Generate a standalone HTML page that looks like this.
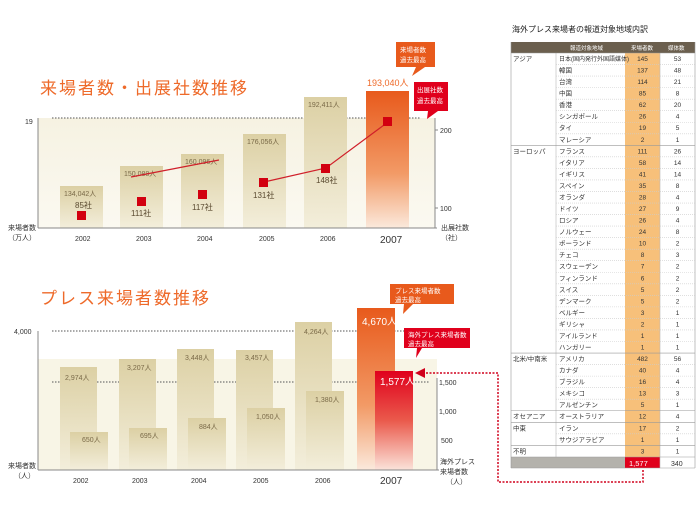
<!DOCTYPE html>
<html><head><meta charset="utf-8"><style>
body{margin:0;background:#fff;width:700px;height:500px;overflow:hidden;font-family:"Liberation Sans","Noto Sans CJK JP",sans-serif}
svg text{font-family:"Liberation Sans","Noto Sans CJK JP",sans-serif}
</style></head><body>
<svg width="700" height="500" viewBox="0 0 700 500" xmlns="http://www.w3.org/2000/svg">
<defs>
<linearGradient id="bg" x1="0" y1="0" x2="0" y2="1"><stop offset="0" stop-color="#f6f2e2"/><stop offset="1" stop-color="#fbf9f1"/></linearGradient>
<linearGradient id="bar" x1="0" y1="0" x2="0" y2="1"><stop offset="0" stop-color="#dcd0a4"/><stop offset="1" stop-color="#f3eedb"/></linearGradient>
<linearGradient id="or" x1="0" y1="0" x2="0" y2="1"><stop offset="0" stop-color="#e85a1c"/><stop offset="0.6" stop-color="#f29a66"/><stop offset="1" stop-color="#fbe9dc"/></linearGradient>
<linearGradient id="rd" x1="0" y1="0" x2="0" y2="1"><stop offset="0" stop-color="#e0001c"/><stop offset="0.5" stop-color="#ea5a4c"/><stop offset="1" stop-color="#fbe3da"/></linearGradient>
</defs>
<!-- TOP CHART -->
<text x="40" y="94" font-size="17" fill="#ee6a2a" letter-spacing="2">来場者数・出展社数推移</text>
<rect x="38" y="118" width="397" height="110" fill="url(#bg)"/>
<line x1="52" y1="118" x2="420" y2="118" stroke="#555" stroke-dasharray="1.5,1.5"/>
<g fill="url(#bar)">
<rect x="60" y="186" width="43" height="42"/><rect x="120" y="166" width="43" height="62"/><rect x="181" y="154" width="43" height="74"/><rect x="243" y="134" width="43" height="94"/><rect x="304" y="97" width="43" height="131"/></g>
<rect x="366" y="91" width="43" height="137" fill="url(#or)"/>
<g font-size="7" fill="#7a6a48">
<text x="64" y="196">134,042人</text><text x="124" y="176">150,088人</text><text x="185" y="164">160,096人</text><text x="247" y="144">176,056人</text><text x="308" y="107">192,411人</text></g>
<text x="367" y="86" font-size="9" fill="#ee6a2a">193,040人</text>
<polyline points="131,177 219,160" stroke="#d0202a" stroke-width="1.2" fill="none"/>
<polyline points="264,182 326,168 388,122" stroke="#d0202a" stroke-width="1.2" fill="none"/>
<g fill="#d20010"><rect x="77" y="211" width="9" height="9"/><rect x="137" y="197" width="9" height="9"/><rect x="198" y="190" width="9" height="9"/><rect x="259" y="178" width="9" height="9"/><rect x="321" y="164" width="9" height="9"/><rect x="383" y="117" width="9" height="9"/></g>
<g font-size="8" fill="#5a4a30"><text x="75" y="208">85社</text><text x="131" y="216">111社</text><text x="192" y="210">117社</text><text x="253" y="198">131社</text><text x="316" y="183">148社</text></g>
<line x1="38" y1="118" x2="38" y2="228" stroke="#888"/><line x1="38" y1="228" x2="437" y2="228" stroke="#888"/><line x1="435" y1="118" x2="435" y2="228" stroke="#888"/>
<line x1="435" y1="130" x2="438" y2="130" stroke="#888"/><line x1="435" y1="208" x2="438" y2="208" stroke="#888"/>
<g font-size="7" fill="#333"><text x="440" y="133">200</text><text x="440" y="211">100</text><text x="25" y="124">19</text>
<text x="75" y="241">2002</text><text x="136" y="241">2003</text><text x="197" y="241">2004</text><text x="259" y="241">2005</text><text x="320" y="241">2006</text>
<text x="8" y="230">来場者数</text><text x="8" y="240">（万人）</text><text x="441" y="230">出展社数</text><text x="441" y="240">（社）</text></g>
<text x="380" y="243" font-size="10" fill="#333">2007</text>
<path d="M396,42 h39 v25 h-10 l-13,9 l4,-9 h-20z" fill="#e85a1c"/>
<text x="400" y="52" font-size="6.5" fill="#fff">来場者数</text><text x="400" y="62" font-size="6.5" fill="#fff">過去最高</text>
<path d="M414,82 h34 v29 h-10 l-11,8 l1,-8 h-14z" fill="#e0001c"/>
<text x="417" y="92" font-size="6.5" fill="#fff">出展社数</text><text x="417" y="103" font-size="6.5" fill="#fff">過去最高</text>
<!-- BOTTOM CHART -->
<text x="40" y="304" font-size="17" fill="#ee6a2a" letter-spacing="2">プレス来場者数推移</text>
<rect x="38" y="359" width="399" height="111" fill="#f8f5e6"/>
<line x1="52" y1="331" x2="430" y2="331" stroke="#555" stroke-dasharray="1.5,1.5"/>
<line x1="52" y1="382" x2="430" y2="382" stroke="#555" stroke-dasharray="1.5,1.5"/>
<g fill="url(#bar)"><rect x="60" y="367" width="37" height="103"/><rect x="119" y="359" width="37" height="111"/><rect x="177" y="349" width="37" height="121"/><rect x="236" y="350" width="37" height="120"/><rect x="295" y="322" width="37" height="148"/>
<rect x="70" y="432" width="38" height="38"/><rect x="129" y="428" width="38" height="42"/><rect x="188" y="418" width="38" height="52"/><rect x="247" y="408" width="38" height="62"/><rect x="306" y="391" width="38" height="79"/></g>
<rect x="357" y="308" width="38" height="162" fill="url(#or)"/>
<rect x="375" y="371" width="38" height="99" fill="url(#rd)"/>
<g font-size="7" fill="#7a6a48"><text x="65" y="380">2,974人</text><text x="127" y="370">3,207人</text><text x="185" y="360">3,448人</text><text x="245" y="360">3,457人</text><text x="304" y="334">4,264人</text>
<text x="82" y="442">650人</text><text x="140" y="438">695人</text><text x="199" y="429">884人</text><text x="256" y="419">1,050人</text><text x="315" y="402">1,380人</text></g>
<text x="362" y="325" font-size="10" fill="#fff">4,670人</text>
<text x="380" y="385" font-size="10" fill="#fff">1,577人</text>
<line x1="38" y1="331" x2="38" y2="470" stroke="#888"/><line x1="38" y1="470" x2="439" y2="470" stroke="#888"/><line x1="437" y1="378" x2="437" y2="470" stroke="#888"/>
<g font-size="7" fill="#333"><text x="14" y="334">4,000</text><text x="439" y="385">1,500</text><text x="439" y="414">1,000</text><text x="441" y="443">500</text>
<text x="73" y="483">2002</text><text x="132" y="483">2003</text><text x="191" y="483">2004</text><text x="253" y="483">2005</text><text x="315" y="483">2006</text>
<text x="8" y="468">来場者数</text><text x="14" y="478">（人）</text><text x="440" y="464">海外プレス</text><text x="440" y="474">来場者数</text><text x="446" y="484">（人）</text></g>
<text x="380" y="484" font-size="10" fill="#333">2007</text>
<path d="M390,284 h64 v20 h-41 l-10,10 l1,-10 h-14z" fill="#e85a1c"/>
<text x="395" y="293" font-size="6.5" fill="#fff">プレス来場者数</text><text x="395" y="302" font-size="6.5" fill="#fff">過去最高</text>
<path d="M404,328 h66 v20 h-48 l-6,10 l1,-10 h-13z" fill="#e0001c"/>
<text x="408" y="337" font-size="6.5" fill="#fff">海外プレス来場者数</text><text x="408" y="346" font-size="6.5" fill="#fff">過去最高</text>
<polyline points="643,470 643,482 498,482 498,373 425,373" fill="none" stroke="#d0001c" stroke-width="1.5" stroke-dasharray="2,1.5"/>
<path d="M415,373 l10,-5 v10z" fill="#d0001c"/>
<!-- TABLE -->
<text x="512" y="32" font-size="8" fill="#222">海外プレス来場者の報道対象地域内訳</text>
<rect x="511" y="42" width="184" height="11" fill="#6b5f4e"/>
<g font-size="5.5" fill="#fff"><text x="570" y="50">報道対象地域</text><text x="631" y="50">来場者数</text><text x="668" y="50">媒体数</text></g>
<rect x="625" y="53" width="35" height="404" fill="#f7c07a"/>
<g id="rows" font-size="6.5" fill="#333"></g>
<rect x="511" y="457" width="114" height="11" fill="#b4b2ac"/>
<rect x="625" y="457" width="35" height="11" fill="#e0001c"/>
<text x="629" y="466" font-size="7.5" fill="#fff">1,577</text>
<text x="671" y="466" font-size="7" fill="#333">340</text>
<line x1="511" y1="42" x2="511" y2="468" stroke="#999" stroke-width="0.6"/>
<line x1="695" y1="42" x2="695" y2="468" stroke="#999" stroke-width="0.6"/>
<line x1="556" y1="53" x2="556" y2="457" stroke="#bbb" stroke-width="0.6"/>
<line x1="660" y1="53" x2="660" y2="468" stroke="#bbb" stroke-width="0.6"/>
<line x1="511" y1="468" x2="695" y2="468" stroke="#999" stroke-width="0.6"/>
<g id="tbl"></g>
</svg>
<script>
var R=[["アジア","日本(国内発行外国語媒体)",145,53],["","韓国",137,48],["","台湾",114,21],["","中国",85,8],["","香港",62,20],["","シンガポール",26,4],["","タイ",19,5],["","マレーシア",2,1],
["ヨーロッパ","フランス",111,26],["","イタリア",58,14],["","イギリス",41,14],["","スペイン",35,8],["","オランダ",28,4],["","ドイツ",27,9],["","ロシア",26,4],["","ノルウェー",24,8],["","ポーランド",10,2],["","チェコ",8,3],["","スウェーデン",7,2],["","フィンランド",6,2],["","スイス",5,2],["","デンマーク",5,2],["","ベルギー",3,1],["","ギリシャ",2,1],["","アイルランド",1,1],["","ハンガリー",1,1],
["北米/中南米","アメリカ",482,56],["","カナダ",40,4],["","ブラジル",16,4],["","メキシコ",13,3],["","アルゼンチン",5,1],["オセアニア","オーストラリア",12,4],["中東","イラン",17,2],["","サウジアラビア",1,1],["不明","",3,1]];
var ns="http://www.w3.org/2000/svg",g=document.getElementById("tbl"),h=11.54;
function T(x,y,s,a,sz){var t=document.createElementNS(ns,"text");t.setAttribute("x",x);t.setAttribute("y",y);t.setAttribute("font-size",sz||6.5);t.setAttribute("fill","#333");if(a)t.setAttribute("text-anchor","middle");t.textContent=s;g.appendChild(t);}
function L(x1,y,x2,c,d){var l=document.createElementNS(ns,"line");l.setAttribute("x1",x1);l.setAttribute("x2",x2);l.setAttribute("y1",y);l.setAttribute("y2",y);l.setAttribute("stroke",c);l.setAttribute("stroke-width","0.6");if(d)l.setAttribute("stroke-dasharray","1,1");g.appendChild(l);}
R.forEach(function(r,i){var y=53+i*h;if(r[0]){L(511,y,695,"#999");T(513,y+8,r[0]);}else L(556,y,695,"#ccc",1);
T(559,y+8,r[1],0,i==0?6:6.5);T(642.5,y+8,r[2],1);T(677.5,y+8,r[3],1);});
L(511,457,695,"#999");
</script>
</body></html>
